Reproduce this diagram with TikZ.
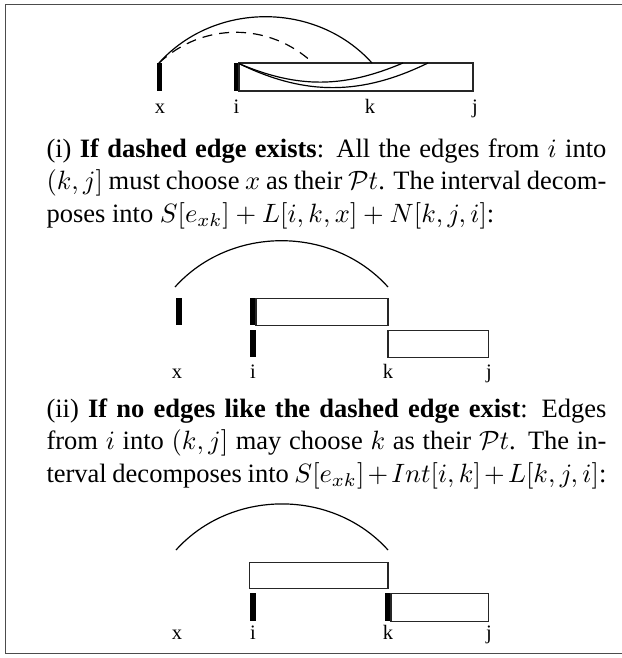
\documentclass[tikz,border=0pt]{standalone}
\usepackage{fontspec}
\setmainfont{Liberation Serif}
\begin{document}
\begin{tikzpicture}[x=0.3774pt,y=-0.3774pt,
  barfill/.style={fill=black},
  ivbox/.style={draw=black!85,line width=0.38pt},
  arcedge/.style={line width=0.45pt},
  dashedge/.style={line width=0.45pt,dash pattern=on 3.77pt off 2.64pt},
  lbl/.style={anchor=base,inner sep=0pt,font=\fontsize{7.74}{9}\selectfont},
  para/.style={anchor=base west,inner sep=0pt,text width=211.3pt,align=justify,font=\fontsize{10}{12.45}\selectfont},
  frame/.style={draw=black!70,line width=0.38pt}]
\useasboundingbox (0,0) rectangle (622,658);
\draw[frame] (622,4.5) -- (5.5,4.5) -- (5.5,653.5) -- (622,653.5);

% ---- diagram 1
\fill[barfill] (156.5,63) rectangle (162,91);
\fill[barfill] (233.5,63) rectangle (239,91);
\draw[ivbox] (239,63) rectangle (473,91);
\coordinate (x1) at (159,63);
\coordinate (i1) at (239,63.6);
\coordinate (k1) at (372,63);
\coordinate (d1) at (313,63);
\coordinate (c1) at (403,63);
\coordinate (c2) at (428,63);
\draw[arcedge] (x1) to[out=48,in=132] (k1);
\draw[dashedge] (x1) to[out=43,in=137] (d1);
\draw[arcedge] (i1) to[out=-23,in=-157] (c1);
\draw[arcedge] (i1) to[out=-26,in=-154] (c2);
\node[lbl] (lx1) at (160,113) {x};
\node[lbl] (li1) at (236.5,113) {i};
\node[lbl] (lk1) at (370,113) {k};
\node[lbl] (lj1) at (475,113) {j};

\node[para] (p1) at (46,157) {(i) \textbf{If dashed edge exists}: All the edges from $i$ into\linebreak
$(k,j]$ must choose $x$ as their $\mathcal{P}t$. The interval decom-\linebreak
poses into $S[e_{xk}] + L[i,k,x] + N[k,j,i]$:\par};

% ---- diagram 2
\coordinate (a2s) at (175,287);
\coordinate (a2e) at (388,287);
\draw[arcedge] (a2s) to[out=48,in=132] (a2e);
\fill[barfill] (175.5,298) rectangle (181.5,325);
\fill[barfill] (249.5,298) rectangle (256,325);
\draw[ivbox] (256,298) rectangle (388,325);
\fill[barfill] (249.5,330) rectangle (256,357);
\draw[ivbox] (388,330) rectangle (488.5,357);
\node[lbl] (lx2) at (177,378) {x};
\node[lbl] (li2) at (253,378) {i};
\node[lbl] (lk2) at (388,378) {k};
\node[lbl] (lj2) at (489,378) {j};

\node[para] (p2) at (46,417) {(ii) \textbf{If no edges like the dashed edge exist}: Edges\linebreak
from $i$ into $(k,j]$ may choose $k$ as their $\mathcal{P}t$. The in-\linebreak
terval decomposes into $S[e_{xk}]+Int[i,k]+L[k,j,i]$:\parfillskip=0pt\par};

% ---- diagram 3
\coordinate (a3s) at (176,550);
\coordinate (a3e) at (388,550);
\draw[arcedge] (a3s) to[out=48,in=132] (a3e);
\draw[ivbox] (249.5,562) rectangle (388,588.5);
\fill[barfill] (249.5,593) rectangle (256,621);
\fill[barfill] (385,593) rectangle (391,621);
\draw[ivbox] (391,593) rectangle (488.5,621);
\node[lbl] (lx3) at (177,639) {x};
\node[lbl] (li3) at (253,639) {i};
\node[lbl] (lk3) at (388,639) {k};
\node[lbl] (lj3) at (489,639) {j};
\end{tikzpicture}
\end{document}
